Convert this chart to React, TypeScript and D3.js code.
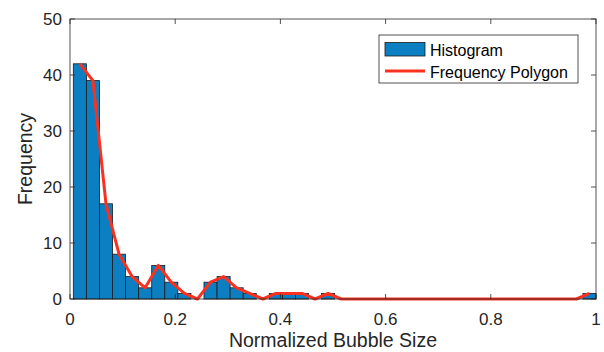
import React, { useEffect, useRef } from 'react';
import * as d3 from 'd3';

// histogram of normalized bubble sizes: 40 bins between binStart and 1
const binStart = 0.0063;
const binEnd = 1;
const counts = [
  42, 39, 17, 8, 4, 2, 6, 3, 1, 0,
  3, 4, 2, 1, 0, 1, 1, 1, 0, 1,
  0, 0, 0, 0, 0, 0, 0, 0, 0, 0,
  0, 0, 0, 0, 0, 0, 0, 0, 0, 1,
];
const xTicks = [0, 0.2, 0.4, 0.6, 0.8, 1];
const yTicks = [0, 10, 20, 30, 40, 50];
const legendLabels = ['Histogram', 'Frequency Polygon'];

const App = () => {
  const svgRef = useRef<SVGSVGElement>(null);

  useEffect(() => {
    const svg = d3.select(svgRef.current);
    svg.selectAll('*').remove();

    const margin = { top: 19, right: 8, bottom: 53, left: 70 };
    const width = 604 - margin.left - margin.right;
    const height = 352 - margin.top - margin.bottom;
    const font = 'Liberation Sans, Arial, Helvetica, sans-serif';
    const axisColor = '#262626';
    const barColor = '#0b7fc2';
    const lineColor = '#fb3120';

    const g = svg.append('g').attr('transform', `translate(${margin.left},${margin.top})`);

    const x = d3.scaleLinear().domain([0, 1]).range([0, width]);
    const y = d3.scaleLinear().domain([0, 50]).range([height, 0]);

    const binW = (binEnd - binStart) / counts.length;
    const bins = counts.map((c, i) => ({
      x0: binStart + i * binW,
      x1: binStart + (i + 1) * binW,
      mid: binStart + (i + 0.5) * binW,
      count: c,
    }));

    g.selectAll('rect.bar')
      .data(bins.filter(b => b.count > 0))
      .enter().append('rect')
      .attr('class', 'bar')
      .attr('x', d => x(d.x0))
      .attr('y', d => y(d.count))
      .attr('width', d => x(d.x1) - x(d.x0))
      .attr('height', d => y(0) - y(d.count))
      .attr('fill', barColor)
      .attr('stroke', '#1a1a1a')
      .attr('stroke-width', 0.8);

    const line = d3.line<typeof bins[0]>()
      .x(d => x(d.mid))
      .y(d => y(d.count));

    g.append('path')
      .datum(bins)
      .attr('d', line)
      .attr('fill', 'none')
      .attr('stroke', lineColor)
      .attr('stroke-width', 3)
      .attr('stroke-linejoin', 'round');

    // box
    g.append('rect')
      .attr('x', 0).attr('y', 0)
      .attr('width', width).attr('height', height)
      .attr('fill', 'none')
      .attr('stroke', axisColor)
      .attr('stroke-width', 0.8);

    const tickLen = 5;
    xTicks.forEach(t => {
      g.append('line')
        .attr('x1', x(t)).attr('x2', x(t))
        .attr('y1', height).attr('y2', height - tickLen)
        .attr('stroke', axisColor).attr('stroke-width', 0.8);
      g.append('line')
        .attr('x1', x(t)).attr('x2', x(t))
        .attr('y1', 0).attr('y2', tickLen)
        .attr('stroke', axisColor).attr('stroke-width', 0.8);
      g.append('text')
        .attr('x', x(t)).attr('y', height + 25.5)
        .attr('text-anchor', 'middle')
        .attr('font-family', font).attr('font-size', 17)
        .attr('fill', axisColor)
        .text(String(t));
    });

    yTicks.forEach(t => {
      g.append('line')
        .attr('x1', 0).attr('x2', tickLen)
        .attr('y1', y(t)).attr('y2', y(t))
        .attr('stroke', axisColor).attr('stroke-width', 0.8);
      g.append('line')
        .attr('x1', width).attr('x2', width - tickLen)
        .attr('y1', y(t)).attr('y2', y(t))
        .attr('stroke', axisColor).attr('stroke-width', 0.8);
      g.append('text')
        .attr('x', -8).attr('y', y(t))
        .attr('dy', '0.35em')
        .attr('text-anchor', 'end')
        .attr('font-family', font).attr('font-size', 17)
        .attr('fill', axisColor)
        .text(String(t));
    });

    g.append('text')
      .attr('x', width / 2).attr('y', height + 48)
      .attr('text-anchor', 'middle')
      .attr('font-family', font).attr('font-size', 19.5)
      .attr('fill', axisColor)
      .text('Normalized Bubble Size');

    g.append('text')
      .attr('transform', `translate(${-38},${height / 2}) rotate(-90)`)
      .attr('text-anchor', 'middle')
      .attr('font-family', font).attr('font-size', 19.5)
      .attr('fill', axisColor)
      .text('Frequency');

    // legend
    const legend = svg.append('g').attr('transform', 'translate(379,35)');
    legend.append('rect')
      .attr('width', 199).attr('height', 48)
      .attr('fill', '#fff')
      .attr('stroke', axisColor).attr('stroke-width', 0.8);

    legend.append('rect')
      .attr('x', 6).attr('y', 7.5)
      .attr('width', 40).attr('height', 13.5)
      .attr('fill', barColor)
      .attr('stroke', '#1a1a1a').attr('stroke-width', 0.8);
    legend.append('line')
      .attr('x1', 6).attr('x2', 46)
      .attr('y1', 36).attr('y2', 36)
      .attr('stroke', lineColor).attr('stroke-width', 3);

    legend.selectAll('text.lbl')
      .data(legendLabels)
      .enter().append('text')
      .attr('class', 'lbl')
      .attr('x', 51)
      .attr('y', (d, i) => 15 + i * 22)
      .attr('dy', '0.35em')
      .attr('font-family', font).attr('font-size', 16)
      .attr('fill', '#000')
      .text(d => d);
  }, []);

  return (
    <svg ref={svgRef} width={604} height={352} style={{ position: 'absolute', left: 0, top: 0 }} />
  );
};

export default App;
